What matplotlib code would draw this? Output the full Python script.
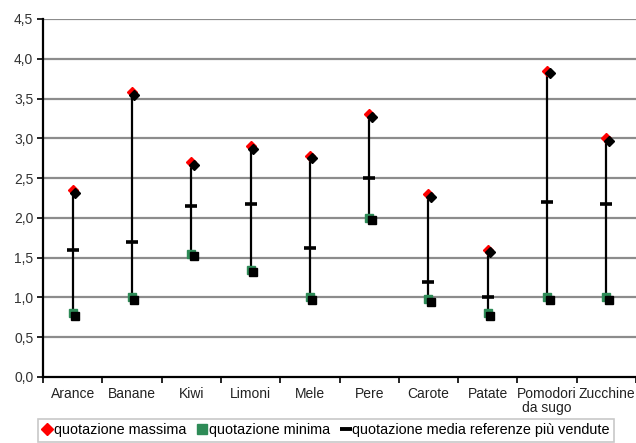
import numpy as np
import matplotlib
matplotlib.use("Agg")
import matplotlib.pyplot as plt
from matplotlib.transforms import offset_copy
from matplotlib.lines import Line2D
from matplotlib.ticker import FuncFormatter

plt.rcParams['font.family'] = ['Liberation Sans', 'DejaVu Sans']

# values
categories = ["Arance", "Banane", "Kiwi", "Limoni", "Mele", "Pere",
              "Carote", "Patate", "Pomodori\nda sugo", "Zucchine"]
q_max = [2.35, 3.58, 2.70, 2.90, 2.78, 3.30, 2.30, 1.60, 3.85, 3.00]
q_min = [0.80, 1.00, 1.55, 1.35, 1.00, 2.00, 0.98, 0.80, 1.00, 1.00]
q_avg = [1.60, 1.70, 2.15, 2.18, 1.62, 2.50, 1.20, 1.00, 2.20, 2.18]

fig = plt.figure(figsize=(6.36, 4.43), dpi=100)
ax = fig.add_axes([43 / 636, 1 - 377 / 443, 593 / 636, 358 / 443])

x = np.arange(len(categories))

# grid
for y in np.arange(0.5, 4.51, 0.5):
    ax.axhline(y, color="#8c8c8c", lw=1.6, zorder=0)

# high-low lines
ax.vlines(x, q_min, q_max, color="black", lw=1.6, zorder=2)

# shadowed markers (black copy shifted right/down)
shadow = offset_copy(ax.transData, fig=fig, x=2.5, y=-2.5, units="dots")
ax.plot(x, q_max, ls="none", marker="D", ms=5.5, color="black",
        transform=shadow, zorder=3)
ax.plot(x, q_max, ls="none", marker="D", ms=5.5, color="#ff0000", zorder=2.5)
ax.plot(x, q_min, ls="none", marker="s", ms=6, color="black",
        transform=shadow, zorder=3)
ax.plot(x, q_min, ls="none", marker="s", ms=6, color="#2e8b57", zorder=2.5)
ax.plot(x, q_avg, ls="none", marker="_", ms=8, mew=2.6, color="black", zorder=4)

ax.set_xlim(-0.5, len(categories) - 0.5)
ax.set_ylim(0, 4.5)
ax.set_yticks(np.arange(0, 4.51, 0.5))
ax.yaxis.set_major_formatter(FuncFormatter(lambda v, p: f"{v:.1f}".replace(".", ",")))
ax.set_xticks(x)
ax.set_xticklabels(categories, fontsize=10, color="#222222", linespacing=1.0)
ax.set_xticks(np.arange(-0.5, len(categories)), minor=True)
ax.tick_params(axis="x", which="major", length=0, pad=7)
ax.tick_params(axis="x", which="minor", length=4, width=1.2, direction="out")
ax.tick_params(axis="y", length=4, width=1.2, labelsize=10, labelcolor="#333333",
               pad=3)

for s in ["top", "right"]:
    ax.spines[s].set_visible(False)
for s in ["left", "bottom"]:
    ax.spines[s].set_linewidth(1.6)

handles = [
    Line2D([], [], ls="none", marker="D", ms=6, color="#ff0000"),
    Line2D([], [], ls="none", marker="s", ms=7, color="#2e8b57"),
    Line2D([], [], ls="none", marker="_", ms=8, mew=2.8, color="black"),
]
labels = ["quotazione massima", "quotazione minima",
          "quotazione media referenze più vendute"]
leg = fig.legend(handles, labels, loc="upper left",
                 bbox_to_anchor=(38 / 636, 1 - 419 / 443),
                 ncol=3, fontsize=10.4, frameon=True, fancybox=False,
                 handlelength=0.7, handletextpad=0.1, columnspacing=0.75,
                 borderpad=0.3, borderaxespad=0.0)
leg.get_frame().set_edgecolor("#bbbbbb")
leg.get_frame().set_linewidth(1.2)

fig.savefig("out.png", dpi=100)
